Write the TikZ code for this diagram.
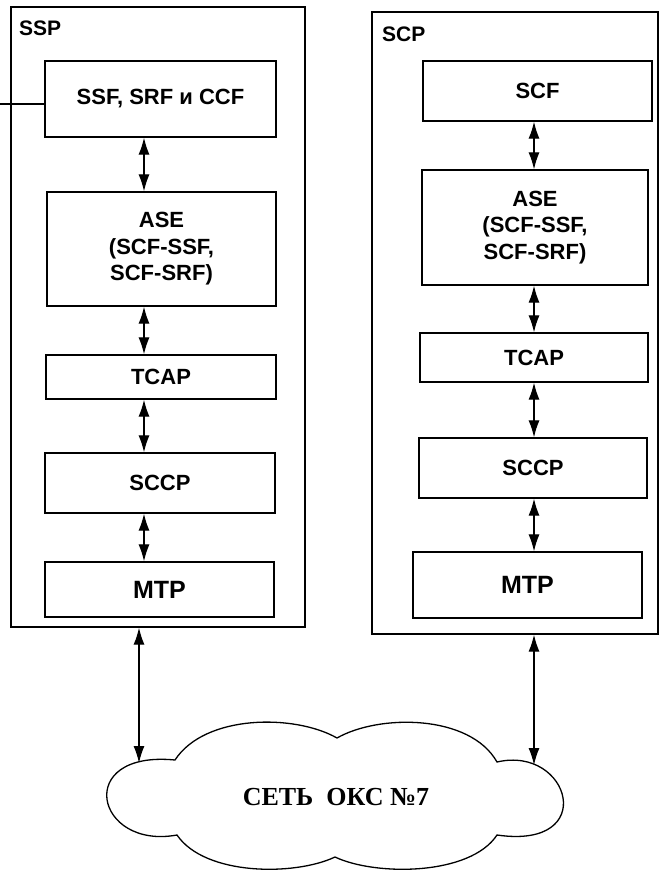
\documentclass[tikz,border=0pt]{standalone}
\usepackage{fontspec}
\setmainfont{Liberation Sans}
\newfontfamily\cloudfont{Liberation Serif}
\usetikzlibrary{arrows.meta}
\tikzset{
  outerbox/.style={draw, line width=1.3pt, inner sep=0pt},
  layerbox/.style={draw, line width=1.3pt, inner sep=0pt, align=center,
    font=\bfseries\fontsize{22}{26.5}\selectfont},
  lbl/.style={inner sep=0pt, font=\bfseries\fontsize{21}{24}\selectfont},
  darrow/.style={line width=1.2pt, {Latex[length=17pt,width=11pt]}-{Latex[length=17pt,width=11pt]}},
  stub/.style={line width=1.2pt}
}
\begin{document}
\begin{tikzpicture}[x=1pt,y=-1pt]
\useasboundingbox (0,0) rectangle (660,870);
% outer boxes
\node[outerbox, minimum width=294, minimum height=620] (ssp) at (158,317) {};
\node[outerbox, minimum width=286, minimum height=622] (scp) at (515,323) {};
\node[lbl, anchor=base west] (sspl) at (19,35) {SSP};
\node[lbl, anchor=base west] (scpl) at (382,41) {SCP};
% left column
\node[layerbox, minimum width=231, minimum height=76] (ssf) at (160.5,99) {SSF, SRF и CCF};
\node[layerbox, minimum width=229, minimum height=114] (ase1) at (161.5,249) {ASE\\(SCF-SSF,\\SCF-SRF)};
\node[layerbox, minimum width=230, minimum height=44] (tcap1) at (161,377) {TCAP};
\node[layerbox, minimum width=230, minimum height=60] (sccp1) at (160,483) {SCCP};
\node[layerbox, minimum width=229, minimum height=55, font=\bfseries\fontsize{25}{28}\selectfont] (mtp1) at (159.5,589.5) {MTP};
% right column
\node[layerbox, minimum width=229, minimum height=60] (scf) at (537.5,91) {SCF};
\node[layerbox, minimum width=226, minimum height=115] (ase2) at (535,227.5) {ASE\\(SCF-SSF,\\SCF-SRF)};
\node[layerbox, minimum width=228, minimum height=49] (tcap2) at (534,357.5) {TCAP};
\node[layerbox, minimum width=228, minimum height=60] (sccp2) at (533,468) {SCCP};
\node[layerbox, minimum width=229, minimum height=66, font=\bfseries\fontsize{25}{28}\selectfont] (mtp2) at (527.5,585) {MTP};
% arrow axes
\coordinate (lx) at (144,0);
\coordinate (rx) at (534,0);
\draw[darrow] (lx |- ssf.south) -- (lx |- ase1.north);
\draw[darrow] (lx |- ase1.south) -- (lx |- tcap1.north);
\draw[darrow] (lx |- tcap1.south) -- (lx |- sccp1.north);
\draw[darrow] (lx |- sccp1.south) -- (lx |- mtp1.north);
\draw[darrow] (rx |- scf.south) -- (rx |- ase2.north);
\draw[darrow] (rx |- ase2.south) -- (rx |- tcap2.north);
\draw[darrow] (rx |- tcap2.south) -- (rx |- sccp2.north);
\draw[darrow] (rx |- sccp2.south) -- (rx |- mtp2.north);
% stub line at left
\coordinate (stubend) at (0,104);
\draw[stub] (stubend) -- (stubend -| ssf.west);
% cloud
\draw[line width=1.3pt]
  (175,760) .. controls (205,714) and (295,714) .. (337,738)
  .. controls (379,714) and (470,714) .. (497,762)
  .. controls (570,745) and (600,850) .. (497,835)
  .. controls (470,876) and (375,876) .. (335,857)
  .. controls (295,876) and (205,876) .. (177,835)
  .. controls (95,850) and (73,750) .. cycle;
\node[inner sep=0pt, font=\cloudfont\bfseries\fontsize{26}{30}\selectfont] (net) at (336,797) {СЕТЬ\ \ ОКС №7};
\coordinate (cl) at (139,763);
\coordinate (cr) at (534,765);
\draw[darrow] (cl |- ssp.south) -- (cl);
\draw[darrow] (cr |- scp.south) -- (cr);
\end{tikzpicture}
\end{document}
